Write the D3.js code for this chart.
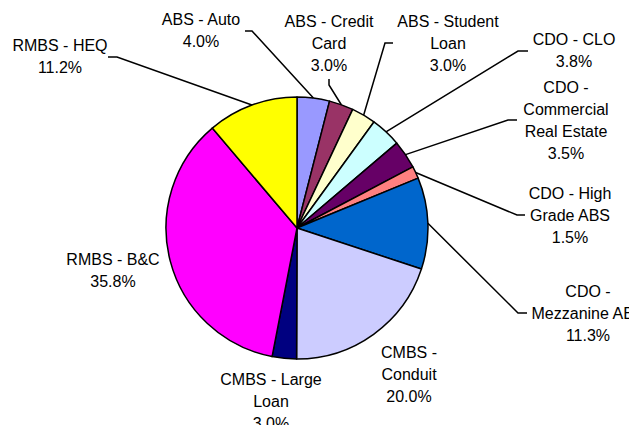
<!DOCTYPE html>
<html>
<head>
<meta charset="utf-8">
<script src="https://cdn.jsdelivr.net/npm/d3@7"></script>
<style>
  html, body { margin: 0; padding: 0; background: #fff; }
  svg { display: block; }
  text { font-family: "Liberation Sans", Arial, sans-serif; font-size: 16px; fill: #000; }
</style>
</head>
<body>
<svg id="chart" width="629" height="425"></svg>
<script>
// ---- data ----
const categories = [
  "ABS - Auto", "ABS - Credit Card", "ABS - Student Loan", "CDO - CLO",
  "CDO - Commercial Real Estate", "CDO - High Grade ABS", "CDO - Mezzanine ABS",
  "CMBS - Conduit", "CMBS - Large Loan", "RMBS - B&C", "RMBS - HEQ"
];
const values = [4.0, 3.0, 3.0, 3.8, 3.5, 1.5, 11.3, 20.0, 3.0, 35.8, 11.2];
const labelLines = [
  ["ABS - Auto"], ["ABS - Credit", "Card"], ["ABS - Student", "Loan"], ["CDO - CLO"],
  ["CDO -", "Commercial", "Real Estate"], ["CDO - High", "Grade ABS"], ["CDO -", "Mezzanine ABS"],
  ["CMBS -", "Conduit"], ["CMBS - Large", "Loan"], ["RMBS - B&C"], ["RMBS - HEQ"]
];
const colors = ["#9999FF", "#993366", "#FFFFCC", "#CCFFFF", "#660066", "#FF8080",
                "#0066CC", "#CCCCFF", "#000080", "#FF00FF", "#FFFF00"];

// ---- layout (label placement and leader elbows) ----
const labelLayout = [
  {x: 201, y: 24.5, elbow: [[252, 31], [245, 31]]},
  {x: 329, y: 26.7, elbow: [[329, 85], [329, 79]]},
  {x: 448, y: 26.7, elbow: [[385, 43], [393, 43]]},
  {x: 574, y: 45,   elbow: [[518, 51], [528, 51]]},
  {x: 566, y: 92.7, elbow: [[508, 120], [517, 120]]},
  {x: 570, y: 199,  elbow: [[517, 215], [525, 215]]},
  {x: 588, y: 296.7, elbow: [[518, 313], [527, 313]]},
  {x: 409, y: 358.3, elbow: null},
  {x: 271, y: 385,  elbow: null},
  {x: 113, y: 265,  elbow: null},
  {x: 60,  y: 50.5, elbow: [[117, 57], [108, 57]]}
];

const cx = 297, cy = 228, R = 131, lineH = 22;

const svg = d3.select("#chart");
const g = svg.append("g").attr("transform", `translate(${cx},${cy})`);

const total = d3.sum(values);
const pie = d3.pie().sort(null).value(d => d).startAngle(0).endAngle(2 * Math.PI);
const arcs = pie(values);
const arc = d3.arc().innerRadius(0).outerRadius(R);

g.selectAll("path.slice")
  .data(arcs)
  .enter().append("path")
  .attr("class", "slice")
  .attr("d", arc)
  .attr("fill", (d, i) => colors[i])
  .attr("stroke", "#000")
  .attr("stroke-width", 1.5)
  .attr("stroke-linejoin", "round");

// leader lines
const line = d3.line();
arcs.forEach((a, i) => {
  const lay = labelLayout[i];
  if (!lay.elbow) return;
  const mid = (a.startAngle + a.endAngle) / 2;
  const p0 = [cx + R * Math.sin(mid), cy - R * Math.cos(mid)];
  svg.append("path")
    .attr("d", line([p0, ...lay.elbow]))
    .attr("fill", "none")
    .attr("stroke", "#000")
    .attr("stroke-width", 1.5);
});

// labels
arcs.forEach((a, i) => {
  const lay = labelLayout[i];
  const lines = labelLines[i].concat([d3.format(".1f")(values[i]) + "%"]);
  const t = svg.append("text")
    .attr("text-anchor", "middle")
    .attr("x", lay.x)
    .attr("y", lay.y);
  lines.forEach((s, k) => {
    t.append("tspan").attr("x", lay.x).attr("y", lay.y + k * lineH).text(s);
  });
});
</script>
</body>
</html>
